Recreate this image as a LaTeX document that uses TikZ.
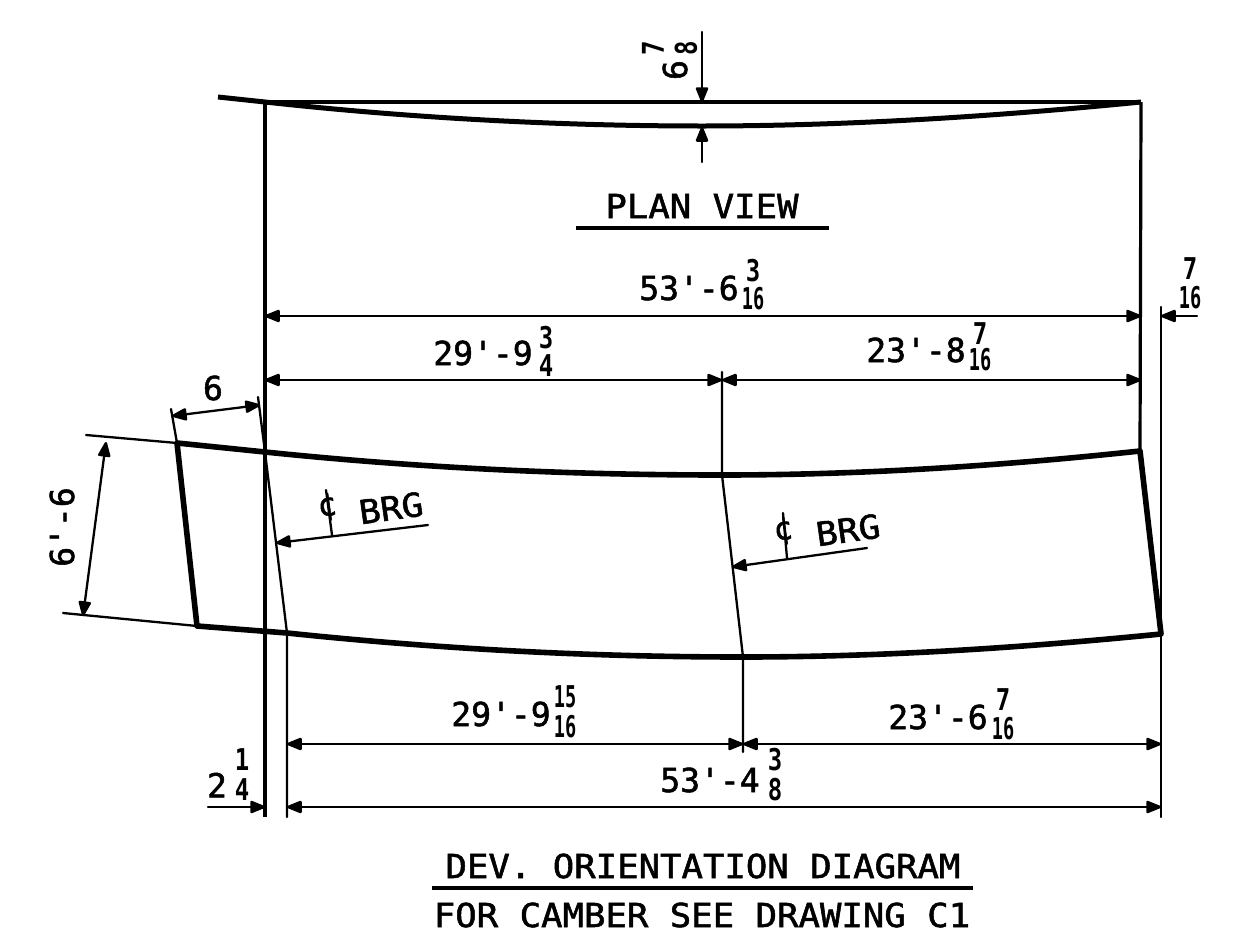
\documentclass[tikz,border=0pt]{standalone}
\usepackage{fontspec}
\usetikzlibrary{arrows.meta}
\newfontfamily\cadfont[FakeStretch=1.08,FakeBold=1.6]{DejaVu Sans Mono}
\newfontfamily\caddim[FakeStretch=1.0,FakeBold=1.6]{DejaVu Sans Mono}
\newfontfamily\cadone[FakeStretch=0.8]{DejaVu Sans Mono Bold}
\newfontfamily\cadtwo[FakeStretch=0.62]{DejaVu Sans Mono Bold}
\tikzset{
  blob/.tip={Triangle[length=17pt,width=13pt,round,line width=2.5pt]},
  thinl/.style={line width=2.3pt,line cap=round,draw=black},
  midl/.style={line width=3.2pt,line cap=butt,draw=black},
  heavy/.style={line width=5.6pt,line join=round,draw=black},
  dimline/.style={thinl,{blob}-{blob}},
  leader/.style={thinl,-{blob}},
  txt/.style={inner sep=0pt,outer sep=0pt,black,font=\cadfont\fontsize{33}{33}\selectfont},
  dimt/.style={inner sep=0pt,outer sep=0pt,black,font=\caddim\fontsize{33}{33}\selectfont},
  frac/.style={inner sep=0pt,outer sep=0pt,black,font=\cadone\fontsize{30}{30}\selectfont},
  fracw/.style={inner sep=0pt,outer sep=0pt,black,font=\cadtwo\fontsize{30}{30}\selectfont},
}
\begin{document}
\begin{tikzpicture}[x=1pt,y=-1pt]
\useasboundingbox[fill=white] (0,0) rectangle (1247,945);
% reference points
\coordinate (pa) at (218,97);
\coordinate (pl) at (265,102);
\coordinate (pr) at (1141,102);
\coordinate (pm) at (702,126);
\coordinate (vb) at (265,817);
\coordinate (tl) at (177,443);
\coordinate (tc) at (265,452);
\coordinate (tm) at (722,475);
\coordinate (tr) at (1140,451);
\coordinate (bl) at (197,626);
\coordinate (bc) at (287,633);
\coordinate (bm) at (743,657);
\coordinate (br) at (1161,634);
% plan view
\draw[midl] (pl) -- (pr);
\draw[line width=5pt,line join=round] (pa) -- (pl) .. controls (410,118) and (560,126) .. (pm) .. controls (850,126) and (1000,116) .. (pr);
\draw[midl] (pl) -- (vb);
\draw[midl] (pr) -- (tr);
\coordinate (ct) at (702,32);
\coordinate (cta) at (702,102);
\coordinate (cb) at (702,162);
\coordinate (cba) at (702,127);
\draw[leader] (ct) -- (cta);
\draw[leader] (cb) -- (cba);
\node[dimt,rotate=90] (n6a) at (675,70) {6};
\node[frac,rotate=90] (n7a) at (653,48) {7};
\node[frac,rotate=90] (n8a) at (686,48) {8};
\node[txt] (plan) at (702,206) {PLAN VIEW};
\coordinate (pu1) at (576,228);
\coordinate (pu2) at (829,228);
\draw[midl] (pu1) -- (pu2);
% dev outline
\draw[heavy] (tl) -- (tc) .. controls (420,468) and (570,475) .. (tm) .. controls (860,475) and (1000,466) .. (tr) -- (br) .. controls (1020,648) and (880,657) .. (bm) .. controls (590,657) and (440,649) .. (bc) -- (bl) -- cycle;
% extension lines
\coordinate (e1) at (86,435);
\coordinate (e2) at (63,613);
\coordinate (e3) at (171,409);
\coordinate (e4) at (258,397);
\coordinate (e5) at (287,817);
\coordinate (e6) at (722,372);
\coordinate (e7) at (743,752);
\coordinate (e8) at (1161,307);
\coordinate (e9) at (1161,817);
\draw[thinl] (e1) -- (tl);
\draw[thinl] (e2) -- (bl);
\draw[thinl] (e3) -- (tl);
\draw[thinl] (e4) -- (tc) -- (bc) -- (e5);
\draw[thinl] (e6) -- (tm) -- (bm) -- (e7);
\draw[thinl] (e8) -- (e9);
% dimensions
\coordinate (d1a) at (265,316);
\coordinate (d1b) at (1141,316);
\coordinate (d2a) at (265,380);
\coordinate (d2m) at (722,380);
\coordinate (d2b) at (1141,380);
\coordinate (d3a) at (287,744);
\coordinate (d3m) at (743,744);
\coordinate (d3b) at (1161,744);
\coordinate (d4a) at (287,807);
\coordinate (d4b) at (1161,807);
\coordinate (d5a) at (172,416);
\coordinate (d5b) at (260,405);
\coordinate (d6a) at (106,442);
\coordinate (d6b) at (83,616);
\draw[dimline] (d1a) -- (d1b);
\draw[dimline] (d2a) -- (d2m);
\draw[dimline] (d2m) -- (d2b);
\draw[dimline] (d3a) -- (d3m);
\draw[dimline] (d3m) -- (d3b);
\draw[dimline] (d4a) -- (d4b);
\draw[dimline] (d5a) -- (d5b);
\draw[dimline] (d6a) -- (d6b);
\coordinate (l1) at (208,807);
\coordinate (l1e) at (265,807);
\coordinate (l2) at (1197,316);
\coordinate (l2e) at (1161,316);
\draw[leader] (l1) -- (l1e);
\draw[leader] (l2) -- (l2e);
% CL leaders
\coordinate (c1) at (428,525);
\coordinate (c1e) at (276,543);
\coordinate (c2) at (867,548);
\coordinate (c2e) at (732,567);
\draw[leader] (c1) -- (c1e);
\draw[leader] (c2) -- (c2e);
\coordinate (s1a) at (326,490);
\coordinate (s1b) at (332,535);
\coordinate (s2a) at (783,513);
\coordinate (s2b) at (787,558);
\draw[thinl] (s1a) -- (s1b);
\draw[thinl] (s2a) -- (s2b);
\node[dimt,rotate=8,font=\caddim\fontsize{32}{32}\selectfont] (cl1) at (327,507) {¢};
\node[dimt,rotate=8,font=\caddim\fontsize{32}{32}\selectfont] (cl2) at (783,531) {¢};
\node[txt,rotate=8] (brg1) at (391,508) {BRG};
\node[txt,rotate=8] (brg2) at (848,530) {BRG};
% dimension texts
\node[dimt] (t1) at (689,288) {53'-6};
\node[frac] (t1n) at (753,271) {3};
\node[fracw] (t1d) at (753,299) {16};
\node[dimt] (t2) at (483,353) {29'-9};
\node[frac] (t2n) at (546,338) {3};
\node[frac] (t2d) at (546,366) {4};
\node[dimt] (t3) at (916,350) {23'-8};
\node[frac] (t3n) at (980,334) {7};
\node[fracw] (t3d) at (980,360) {16};
\node[dimt] (t4) at (213,388) {6};
\node[dimt,rotate=90] (t5) at (62,527) {6'-6};
\node[dimt] (t6) at (501,714) {29'-9};
\node[fracw] (t6n) at (565,697) {15};
\node[fracw] (t6d) at (565,727) {16};
\node[dimt] (t7) at (938,717) {23'-6};
\node[frac] (t7n) at (1003,700) {7};
\node[fracw] (t7d) at (1003,729) {16};
\node[dimt] (t8) at (710,780) {53'-4};
\node[frac] (t8n) at (775,760) {3};
\node[frac] (t8d) at (775,790) {8};
\node[dimt] (t9) at (217,785) {2};
\node[frac] (t9n) at (242,760) {1};
\node[frac] (t9d) at (242,790) {4};
\node[frac] (t10n) at (1190,269) {7};
\node[fracw] (t10d) at (1190,298) {16};
% title
\node[txt] (dev) at (703,866) {DEV. ORIENTATION DIAGRAM};
\coordinate (du1) at (432,888);
\coordinate (du2) at (973,888);
\draw[midl] (du1) -- (du2);
\node[txt] (cam) at (702,915) {FOR CAMBER SEE DRAWING C1};
\end{tikzpicture}
\end{document}
